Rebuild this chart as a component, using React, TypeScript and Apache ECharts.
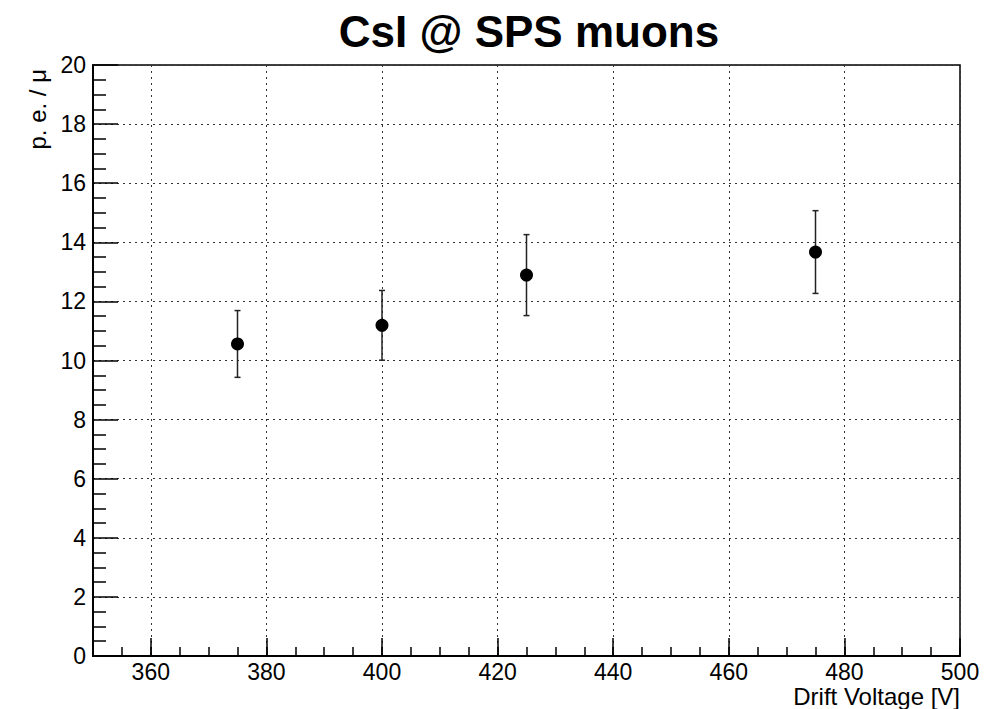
import React, { useEffect, useRef } from 'react';
import * as echarts from 'echarts';

const voltages = [375, 400, 425, 475];
const peValues = [10.56, 11.19, 12.89, 13.67];
const peErrors = [1.13, 1.18, 1.37, 1.4];
const xMajorTicks = [360, 380, 400, 420, 440, 460, 480, 500];
const titleText = 'CsI @ SPS muons';
const xName = 'Drift Voltage [V]';
const yName = 'p. e. / \u03bc';

export default function App() {
  const ref = useRef<HTMLDivElement>(null);
  useEffect(() => {
    const chart = echarts.init(ref.current as HTMLDivElement, null, { renderer: 'svg' });
    const fontFamily = '"Liberation Sans", Arial, Helvetica, sans-serif';
    const tickLine = { color: '#000', width: 1.5 };
    const dotted = { color: '#333', type: [2, 4], width: 1 };
    const option: any = {
      animation: false,
      backgroundColor: '#fff',
      title: {
        text: titleText,
        left: 524,
        top: 4,
        textAlign: 'center',
        textStyle: { fontFamily, fontWeight: 'bold', fontSize: 44, color: '#000' },
      },
      grid: {
        left: 93,
        right: 25,
        top: 65,
        bottom: 53,
        show: true,
        borderColor: '#000',
        borderWidth: 1.5,
        backgroundColor: 'transparent',
        outerBoundsMode: 'none',
      },
      xAxis: [
        {
          type: 'value',
          min: 350,
          max: 500,
          interval: 5,
          axisLine: { show: true, onZero: false, lineStyle: { color: '#000', width: 2 } },
          axisTick: { show: true, inside: true, length: 18, customValues: xMajorTicks, lineStyle: tickLine },
          axisLabel: { customValues: xMajorTicks, margin: 4, fontFamily, fontSize: 23, color: '#000' },
          splitLine: { show: true, lineStyle: dotted },
        },
        {
          type: 'value',
          min: 350,
          max: 500,
          interval: 5,
          position: 'bottom',
          axisLine: { show: false },
          axisTick: { show: true, inside: true, length: 9, lineStyle: tickLine },
          axisLabel: { show: false },
          splitLine: { show: false },
        },
      ],
      yAxis: {
        type: 'value',
        min: 0,
        max: 20,
        interval: 2,
        axisLine: { show: true, onZero: false, lineStyle: { color: '#000', width: 2 } },
        axisTick: { show: true, inside: true, length: 25, lineStyle: tickLine },
        minorTick: { show: true, splitNumber: 4, length: 13, lineStyle: tickLine },
        axisLabel: { margin: 7, fontFamily, fontSize: 23, color: '#000' },
        splitLine: { show: true, lineStyle: dotted },
      },
      graphic: [
        {
          type: 'text',
          x: 37,
          y: 69,
          rotation: Math.PI / 2,
          style: {
            text: yName,
            fontFamily,
            fontSize: 24,
            fill: '#000',
            textAlign: 'right',
            align: 'right',
            textVerticalAlign: 'middle',
            verticalAlign: 'middle',
          },
        },
        {
          type: 'text',
          x: 960,
          y: 696,
          style: {
            text: xName,
            fontFamily,
            fontSize: 24,
            fill: '#000',
            textAlign: 'right',
            align: 'right',
            textVerticalAlign: 'middle',
            verticalAlign: 'middle',
          },
        },
      ],
      series: [
        {
          type: 'custom',
          xAxisIndex: 0,
          yAxisIndex: 0,
          z: 2,
          data: voltages.map((v, i) => [v, peValues[i], peErrors[i]]),
          encode: { x: 0, y: 1 },
          renderItem: (params: any, api: any) => {
            const x = api.value(0);
            const y = api.value(1);
            const e = api.value(2);
            const hi = api.coord([x, y + e]);
            const lo = api.coord([x, y - e]);
            const w = 3;
            const style = { stroke: '#222', lineWidth: 1.5 };
            return {
              type: 'group',
              children: [
                { type: 'line', shape: { x1: hi[0], y1: hi[1], x2: lo[0], y2: lo[1] }, style },
                { type: 'line', shape: { x1: hi[0] - w, y1: hi[1], x2: hi[0] + w, y2: hi[1] }, style },
                { type: 'line', shape: { x1: lo[0] - w, y1: lo[1], x2: lo[0] + w, y2: lo[1] }, style },
              ],
            };
          },
        },
        {
          type: 'scatter',
          xAxisIndex: 0,
          yAxisIndex: 0,
          z: 3,
          symbol: 'circle',
          symbolSize: 13,
          itemStyle: { color: '#000', opacity: 1 },
          data: voltages.map((v, i) => [v, peValues[i]]),
        },
      ],
    };
    chart.setOption(option);
    return () => chart.dispose();
  }, []);
  return (
    <div
      ref={ref}
      style={{ position: 'fixed', left: 0, top: 0, width: 985, height: 709, background: '#fff' }}
    />
  );
}
